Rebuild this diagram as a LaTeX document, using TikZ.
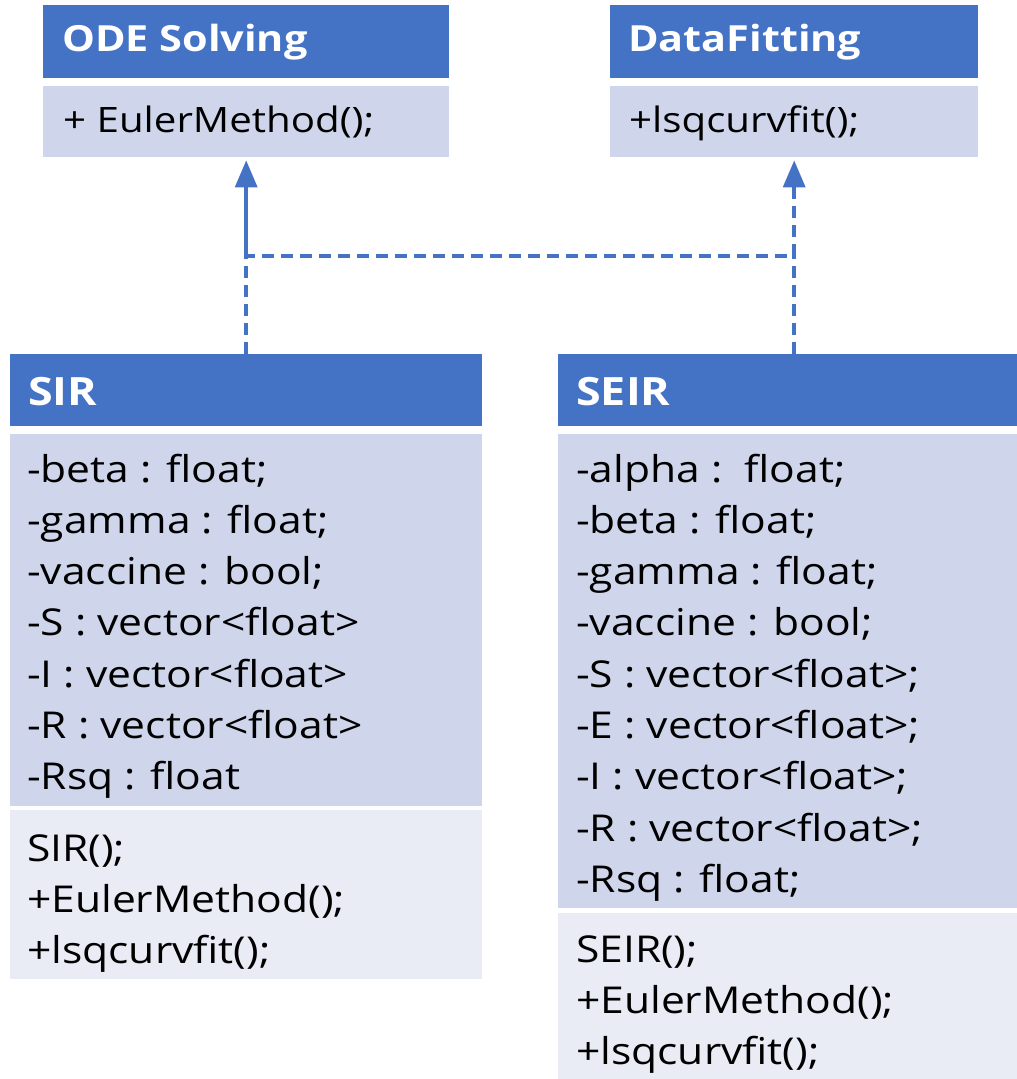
\documentclass[tikz,border=0pt]{standalone}
\usepackage{fontspec}
\setmainfont{Open Sans}[FakeStretch=1.15]
\usetikzlibrary{arrows.meta}
\definecolor{umlblue}{HTML}{4472C4}
\definecolor{attrfill}{HTML}{CFD5EA}
\definecolor{methfill}{HTML}{E9EBF5}
\tikzset{
  part/.style={draw=none, inner sep=0pt, anchor=north west},
  headpart/.style={part, fill=umlblue},
  attrpart/.style={part, fill=attrfill},
  methpart/.style={part, fill=methfill},
  headtxt/.style={anchor=base west, inner sep=0pt, text=white, font=\bfseries\fontsize{#1}{#1}\selectfont},
  headtxt/.default=36,
  bodytxt/.style={anchor=base west, inner sep=0pt, text=black, font=\fontsize{#1}{#1}\selectfont},
  bodytxt/.default=37,
  link/.style={draw=umlblue, line width=3.5pt},
  linkdash/.style={link, dash pattern=on 12pt off 7pt},
  hollowtip/.style={-{Triangle[length=27pt,width=22pt]}, shorten >=3pt}
}
\begin{document}
\begin{tikzpicture}[x=1pt,y=-1pt]
\useasboundingbox (0,0) rectangle (1017,1079);

% ---- ODE Solving ----
\node[headpart, minimum width=406pt, minimum height=73pt] (odeh) at (43,5) {};
\node[attrpart, minimum width=406pt, minimum height=71pt] (odeb) at (43,86) {};
\node[headtxt] (odet) at (62,51) {ODE Solving};
\node[bodytxt=35] (odem) at (63,132) {+ EulerMethod();};

% ---- DataFitting ----
\node[headpart, minimum width=368pt, minimum height=73pt] (dfh) at (610,5) {};
\node[attrpart, minimum width=368pt, minimum height=71pt] (dfb) at (610,86) {};
\node[headtxt] (dft) at (628,51) {DataFitting};
\node[bodytxt=35] (dfm) at (629,132) {+lsqcurvfit();};

% ---- SIR ----
\node[headpart, minimum width=472pt, minimum height=72pt] (sirh) at (10,354) {};
\node[attrpart, minimum width=472pt, minimum height=372pt] (sira) at (10,434) {};
\node[methpart, minimum width=472pt, minimum height=169pt] (sirm) at (10,810) {};
\node[headtxt=39] (sirt) at (28,405) {SIR};
\foreach \t [count=\i] in {-beta : float;, -gamma : float;, -vaccine : bool;,
    -S : vector<float>, -I : vector<float>, -R : vector<float>, -Rsq : float}
  \node[bodytxt] (sirattr\i) at (27,{482+51.3*(\i-1)}) {\t};
\foreach \t [count=\i] in {SIR();, +EulerMethod();, +lsqcurvfit();}
  \node[bodytxt] (sirmeth\i) at (27,{861+51.3*(\i-1)}) {\t};

% ---- SEIR ----
\node[headpart, minimum width=459pt, minimum height=72pt] (seirh) at (558,354) {};
\node[attrpart, minimum width=459pt, minimum height=474pt] (seira) at (558,434) {};
\node[methpart, minimum width=459pt, minimum height=166pt] (seirm) at (558,913) {};
\node[headtxt=39] (seirt) at (576,405) {SEIR};
\foreach \t [count=\i] in {-alpha :~~float;, -beta : float;, -gamma : float;, -vaccine : bool;,
    -S : vector<float>;, -E : vector<float>;, -I : vector<float>;, -R : vector<float>;, -Rsq : float;}
  \node[bodytxt] (seirattr\i) at (576,{482+51.3*(\i-1)}) {\t};
\foreach \t [count=\i] in {SEIR();, +EulerMethod();, +lsqcurvfit();}
  \node[bodytxt] (seirmeth\i) at (576,{962+51.3*(\i-1)}) {\t};

% ---- realization links (shared dashed bus at y = 256) ----
\coordinate (jl) at (sirh.north |- 0,256);
\coordinate (jr) at (dfb.south |- 0,256);
\coordinate (seirtop) at (dfb.south |- seirh.north);
\draw[linkdash, hollowtip] (sirh.north) -- (jl) -- (jr) -- (dfb.south);
\draw[linkdash] (seirtop) -- (jr);
\draw[link, hollowtip] (jl) -- (odeb.south);
\end{tikzpicture}
\end{document}
